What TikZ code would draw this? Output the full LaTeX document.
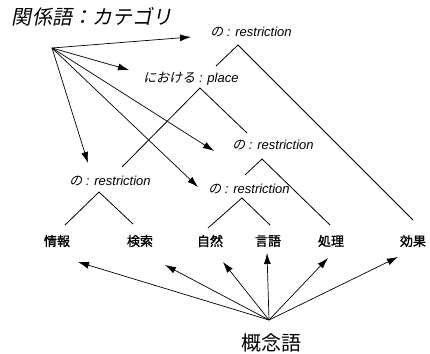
\documentclass[tikz,border=0pt]{standalone}
\usepackage{fontspec}
\setmainfont{Liberation Sans}
\newfontfamily\jp{Noto Sans CJK JP}
\newfontfamily\jpsl{Noto Sans CJK JP}[FakeSlant=0.2]
\newfontfamily\jpb{Noto Sans CJK JP}[FakeBold=1.5]
\usetikzlibrary{arrows.meta}
\tikzset{
  rel/.style={font=\fontsize{13}{15}\selectfont\itshape, inner sep=0pt},
  con/.style={font=\fontsize{13}{15}\selectfont\jpb, inner sep=0pt},
  big/.style={inner sep=0pt},
  arr/.style={-{Latex[length=11pt,width=7pt]}, line width=0.7pt},
  br/.style={line width=0.8pt}
}
\begin{document}
\begin{tikzpicture}[x=1pt,y=-1pt]
\useasboundingbox (0,0) rectangle (430,353);
% headings
\node[big, font=\fontsize{20}{22}\selectfont\jpsl] (title) at (92,17) {関係語：カテゴリ};
\node[big, font=\fontsize{20}{22}\selectfont\jp] (gainen) at (271,343) {概念語};
% relation labels
\node[rel] (A) at (251,32) {{\jpsl の} : restriction};
\node[rel] (P) at (191,79) {{\jpsl における} : place};
\node[rel] (C) at (273,145) {{\jpsl の} : restriction};
\node[rel] (B) at (110,181) {{\jpsl の} : restriction};
\node[rel] (D) at (249,189) {{\jpsl の} : restriction};
% concept words
\node[con] (w1) at (57,241) {情報};
\node[con] (w2) at (140,241) {検索};
\node[con] (w3) at (210,241) {自然};
\node[con] (w4) at (268,241) {言語};
\node[con] (w5) at (331,241) {処理};
\node[con] (w6) at (413,241) {効果};
% hubs
\coordinate (hubT) at (52,48);
\coordinate (hubB) at (269,320);
% arrow tips from top hub
\coordinate (tA) at (191,37);
\coordinate (tP) at (129,70);
\coordinate (tB) at (88,163);
\coordinate (tD) at (198,187);
\coordinate (tC) at (214,151);
\foreach \t in {tA,tP,tB,tD,tC} \draw[arr] (hubT) -- (\t);
% arrow tips from bottom hub
\coordinate (b1) at (78,262);
\coordinate (b2) at (165,265);
\coordinate (b3) at (223,262);
\coordinate (b4) at (267,253);
\coordinate (b5) at (328,258);
\coordinate (b6) at (398,257);
\foreach \t in {b1,b2,b3,b4,b5,b6} \draw[arr] (hubB) -- (\t);
% tree branches
\coordinate (aA) at (238,45); \coordinate (lA) at (216,66); \coordinate (rA) at (413,220);
\coordinate (aP) at (200,88); \coordinate (lP) at (122,167); \coordinate (rP) at (247,133);
\coordinate (aC) at (262,159); \coordinate (lC) at (245,175); \coordinate (rC) at (330,225);
\coordinate (aB) at (99,192); \coordinate (lB) at (65,225); \coordinate (rB) at (133,224);
\coordinate (aD) at (242,198); \coordinate (lD) at (208,228); \coordinate (rD) at (270,225);
\foreach \n in {A,P,C,B,D} \draw[br] (l\n) -- (a\n) -- (r\n);
\end{tikzpicture}
\end{document}
